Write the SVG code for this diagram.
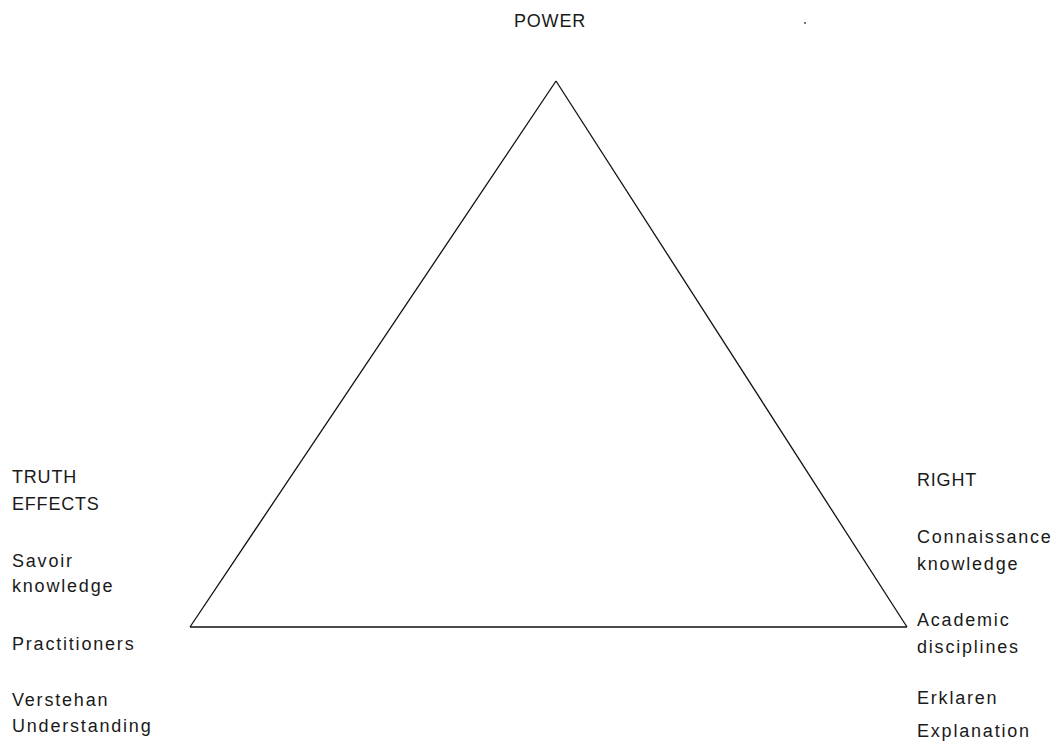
<svg xmlns="http://www.w3.org/2000/svg" width="1060" height="742" viewBox="0 0 1060 742">
<style>
text{font-family:"Liberation Sans",Arial,sans-serif;font-size:18px;fill:#1a1a1a;letter-spacing:1.8px}
text.caps{letter-spacing:0.8px}
.edge{stroke:#111;stroke-width:1.3;fill:none}
</style>
<rect width="1060" height="742" fill="#fff"/>
<g id="connectors">
<line class="edge" x1="556" y1="81" x2="190" y2="627"/>
<line class="edge" x1="556" y1="81" x2="907" y2="627"/>
<line class="edge" x1="190" y1="627" x2="907" y2="627" stroke-width="2"/>
</g>
<g id="power"><text class="caps" x="514" y="27">POWER</text></g>
<circle cx="805" cy="23" r="0.9" fill="#333"/>
<g id="truth">
<text class="caps" x="12" y="483">TRUTH</text>
<text class="caps" x="12" y="510">EFFECTS</text>
<text x="12" y="567">Savoir</text>
<text x="12" y="592">knowledge</text>
<text x="12" y="650">Practitioners</text>
<text x="12" y="706">Verstehan</text>
<text x="12" y="732">Understanding</text>
</g>
<g id="right">
<text class="caps" x="917" y="486">RIGHT</text>
<text x="917" y="543">Connaissance</text>
<text x="917" y="570">knowledge</text>
<text x="917" y="626">Academic</text>
<text x="917" y="653">disciplines</text>
<text x="917" y="704">Erklaren</text>
<text x="917" y="737">Explanation</text>
</g>
</svg>
